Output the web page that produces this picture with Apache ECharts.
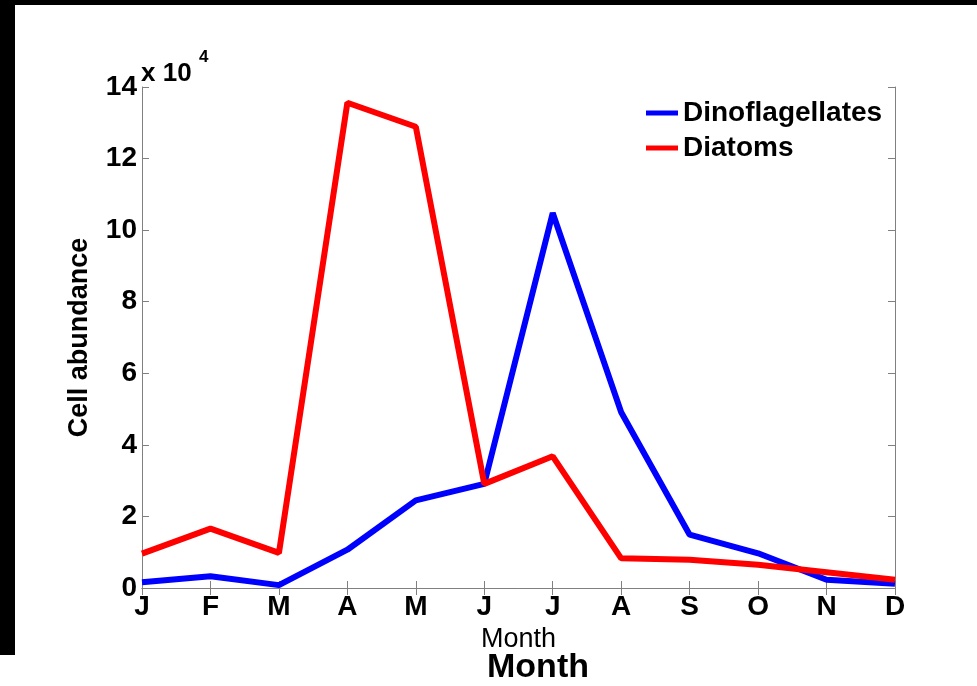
<!DOCTYPE html>
<html>
<head>
<meta charset="utf-8">
<script src="https://cdn.jsdelivr.net/npm/echarts@6/dist/echarts.min.js"></script>
<style>
html,body{margin:0;padding:0;background:#fff;}
#chart{width:977px;height:686px;}
</style>
</head>
<body>
<div id="chart"></div>
<script>
// Data (cell counts)
const months = ['J','F','M','A','M','J','J','A','S','O','N','D'];
const dinoflagellates = [1600, 3300, 800, 10700, 24500, 29100, 104800, 49100, 14900, 9700, 2300, 1200];
const diatoms = [9600, 16600, 9800, 135600, 128900, 29100, 36800, 8300, 7900, 6500, 4400, 2300];
const yTicksMax = 140000;
const yTickStep = 20000;

const FONT = 'Liberation Sans, Arial, Helvetica, sans-serif';
const AXIS_GRAY = '#808080';

const chart = echarts.init(document.getElementById('chart'), null, {renderer: 'canvas'});

const option = {
  backgroundColor: '#ffffff',
  animation: false,
  grid: {left: 142, right: 82, top: 87, bottom: 98, containLabel: false},
  legend: {
    orient: 'vertical',
    left: 646,
    top: 99,
    padding: 0,
    itemGap: 7,
    itemWidth: 32,
    itemHeight: 5,
    icon: 'rect',
    textStyle: {fontFamily: FONT, fontSize: 28, fontWeight: 'bold', color: '#000', lineHeight: 28},
    data: ['Dinoflagellates', 'Diatoms']
  },
  xAxis: [
    {
      type: 'category',
      data: months,
      boundaryGap: false,
      position: 'bottom',
      name: 'Month',
      nameLocation: 'middle',
      nameGap: 31,
      nameTextStyle: {fontFamily: FONT, fontSize: 27, color: '#000', lineHeight: 27},
      axisLine: {lineStyle: {color: AXIS_GRAY, width: 1}},
      axisTick: {inside: true, length: 7, lineStyle: {color: AXIS_GRAY}},
      axisLabel: {fontFamily: FONT, fontSize: 28, fontWeight: 'bold', color: '#000', margin: 5, interval: 0, lineHeight: 28},
      splitLine: {show: false}
    },
    {
      type: 'category',
      data: months,
      boundaryGap: false,
      position: 'top',
      axisLine: {lineStyle: {color: AXIS_GRAY, width: 1}},
      axisTick: {inside: true, length: 7, lineStyle: {color: AXIS_GRAY}, interval: 0},
      axisLabel: {show: false},
      splitLine: {show: false}
    }
  ],
  yAxis: [
    {
      type: 'value',
      min: 0,
      max: yTicksMax,
      interval: yTickStep,
      position: 'left',
      name: 'Cell abundance',
      nameLocation: 'middle',
      nameGap: 49,
      nameTextStyle: {fontFamily: FONT, fontSize: 27, fontWeight: 'bold', color: '#000', lineHeight: 27},
      axisLine: {show: true, lineStyle: {color: AXIS_GRAY, width: 1}},
      axisTick: {show: true, inside: true, length: 7, lineStyle: {color: AXIS_GRAY}},
      axisLabel: {fontFamily: FONT, fontSize: 28, fontWeight: 'bold', color: '#000', margin: 5,
        formatter: v => String(v / 10000)},
      splitLine: {show: false}
    },
    {
      type: 'value',
      min: 0,
      max: yTicksMax,
      interval: yTickStep,
      position: 'right',
      axisLine: {show: true, lineStyle: {color: AXIS_GRAY, width: 1}},
      axisTick: {show: true, inside: true, length: 7, lineStyle: {color: AXIS_GRAY}},
      axisLabel: {show: false},
      splitLine: {show: false}
    }
  ],
  series: [
    {
      name: 'Dinoflagellates',
      type: 'line',
      data: dinoflagellates,
      xAxisIndex: 0, yAxisIndex: 0,
      showSymbol: false,
      symbol: 'none',
      color: '#0000ff',
      lineStyle: {color: '#0000ff', width: 6},
      z: 2
    },
    {
      name: 'Diatoms',
      type: 'line',
      data: diatoms,
      xAxisIndex: 0, yAxisIndex: 0,
      showSymbol: false,
      symbol: 'none',
      color: '#ff0000',
      lineStyle: {color: '#ff0000', width: 6},
      z: 3
    }
  ],
  graphic: [
    {type: 'rect', left: 0, top: 0, shape: {width: 977, height: 5}, style: {fill: '#000'}, z: 100},
    {type: 'rect', left: 0, top: 0, shape: {width: 15, height: 655}, style: {fill: '#000'}, z: 100},
    {type: 'text', x: 141, y: 74, style: {text: 'x 10', fontFamily: FONT, fontSize: 26, fontWeight: 'bold', fill: '#000', align: 'left', verticalAlign: 'middle'}, z: 100},
    {type: 'text', x: 199, y: 57, style: {text: '4', fontFamily: FONT, fontSize: 17, fontWeight: 'bold', fill: '#000', align: 'left', verticalAlign: 'middle'}, z: 100},
    {type: 'text', x: 538, y: 668, style: {text: 'Month', fontFamily: FONT, fontSize: 34, fontWeight: 'bold', fill: '#000', align: 'center', verticalAlign: 'middle'}, z: 100}
  ]
};

chart.setOption(option);
</script>
</body>
</html>
